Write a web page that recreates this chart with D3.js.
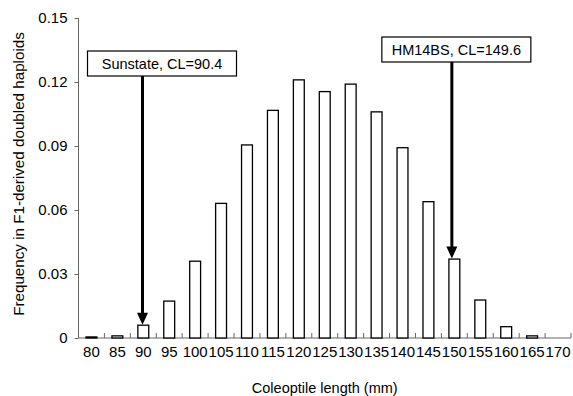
<!DOCTYPE html>
<html>
<head>
<meta charset="utf-8">
<script src="https://cdn.jsdelivr.net/npm/d3@7/dist/d3.min.js"></script>
<style>
  html, body { margin: 0; padding: 0; background: #fff; }
  svg { display: block; font-family: "Liberation Sans", Arial, sans-serif; }
</style>
</head>
<body>
<svg id="chart" width="573" height="396"></svg>
<script>
// ---- data ----
const categories = ["80","85","90","95","100","105","110","115","120","125","130","135","140","145","150","155","160","165","170"];
const frequencies = [0.0005,0.001,0.006,0.0173,0.036,0.0631,0.0905,0.1067,0.121,0.1155,0.119,0.106,0.0892,0.0639,0.037,0.0178,0.0053,0.001,0];
const yTicks = [0, 0.03, 0.06, 0.09, 0.12, 0.15];
const yTickLabels = ["0", "0.03", "0.06", "0.09", "0.12", "0.15"];
const annotationLabels = ["Sunstate, CL=90.4", "HM14BS, CL=149.6"];
const annotationBins = ["90", "150"];
const xTitle = "Coleoptile length (mm)";
const yTitle = "Frequency in F1-derived doubled haploids";

// ---- layout ----
const svg = d3.select("#chart");
const pLeft = 78.5, pRight = 571, pTop = 18, pBottom = 338;
const padIn = 0.58;
const x = d3.scaleBand().domain(categories).range([pLeft, pRight])
  .paddingInner(padIn).paddingOuter(padIn / 2);
const y = d3.scaleLinear().domain([0, 0.15]).range([pBottom, pTop]);
const axisColor = "#666";
const fontFam = "'Liberation Sans', Arial, sans-serif";

// y axis
const yAxis = svg.append("g").attr("transform", `translate(${pLeft},0)`)
  .call(d3.axisLeft(y).tickValues(yTicks).tickFormat((d, i) => yTickLabels[i]).tickSize(4).tickPadding(7));
yAxis.select(".domain").attr("stroke", axisColor).attr("d", `M0,${pBottom}V${pTop}`);
yAxis.selectAll(".tick line").attr("stroke", axisColor);
yAxis.selectAll(".tick text").attr("font-size", 15).attr("fill", "#000").attr("font-family", fontFam);

// x axis: labels at band centres, ticks at band boundaries pointing up
const xAxis = svg.append("g").attr("transform", `translate(0,${pBottom})`)
  .call(d3.axisBottom(x).tickSize(0).tickPadding(8.5));
xAxis.select(".domain").attr("stroke", axisColor).attr("d", `M${pLeft},0H${pRight}`);
xAxis.selectAll(".tick text").attr("font-size", 15).attr("fill", "#000").attr("font-family", fontFam);
const boundaries = categories.map(c => x(c) - x.step() * padIn / 2).concat([pRight]);
svg.append("g").selectAll("line").data(boundaries.slice(1)).join("line")
  .attr("x1", d => d).attr("x2", d => d)
  .attr("y1", pBottom).attr("y2", pBottom - 5)
  .attr("stroke", axisColor).attr("stroke-width", 1);

// bars
svg.append("g").selectAll("rect").data(categories.map((c, i) => ({c, v: frequencies[i]})).filter(d => d.v > 0))
  .join("rect")
  .attr("x", d => x(d.c))
  .attr("width", x.bandwidth())
  .attr("y", d => y(d.v))
  .attr("height", d => pBottom - y(d.v))
  .attr("fill", "#fff")
  .attr("stroke", "#000")
  .attr("stroke-width", 1.3);

// annotations
const boxW = 149, boxH = 25;
const boxLeftOffset = [-55, -70];   // box left relative to arrow x
const boxTop = [51, 37];
const arrowNudge = [-0.8, -2.5];
annotationLabels.forEach((label, i) => {
  const bin = annotationBins[i];
  const ax = x(bin) + x.bandwidth() / 2 + arrowNudge[i];
  const bx = ax + boxLeftOffset[i];
  const g = svg.append("g");
  g.append("rect").attr("x", bx).attr("y", boxTop[i]).attr("width", boxW).attr("height", boxH)
    .attr("fill", "#fff").attr("stroke", "#000").attr("stroke-width", 1.2);
  g.append("text").attr("x", bx + boxW / 2).attr("y", boxTop[i] + boxH / 2 + 5)
    .attr("text-anchor", "middle").attr("font-size", 14.5).text(label);
  const tipY = y(frequencies[categories.indexOf(bin)]) - 0.5;
  const headH = 12, headW = 11;
  g.append("line").attr("x1", ax).attr("x2", ax)
    .attr("y1", boxTop[i] + boxH).attr("y2", tipY - headH + 1)
    .attr("stroke", "#000").attr("stroke-width", 3);
  g.append("path")
    .attr("d", `M${ax - headW / 2},${tipY - headH}L${ax + headW / 2},${tipY - headH}L${ax},${tipY}Z`)
    .attr("fill", "#000");
});

// titles
svg.append("text").attr("x", (pLeft + pRight) / 2).attr("y", 393)
  .attr("text-anchor", "middle").attr("font-size", 14.5).text(xTitle);
svg.append("text").attr("transform", `translate(24,174) rotate(-90)`)
  .attr("text-anchor", "middle").attr("font-size", 15.2).text(yTitle);
</script>
</body>
</html>
